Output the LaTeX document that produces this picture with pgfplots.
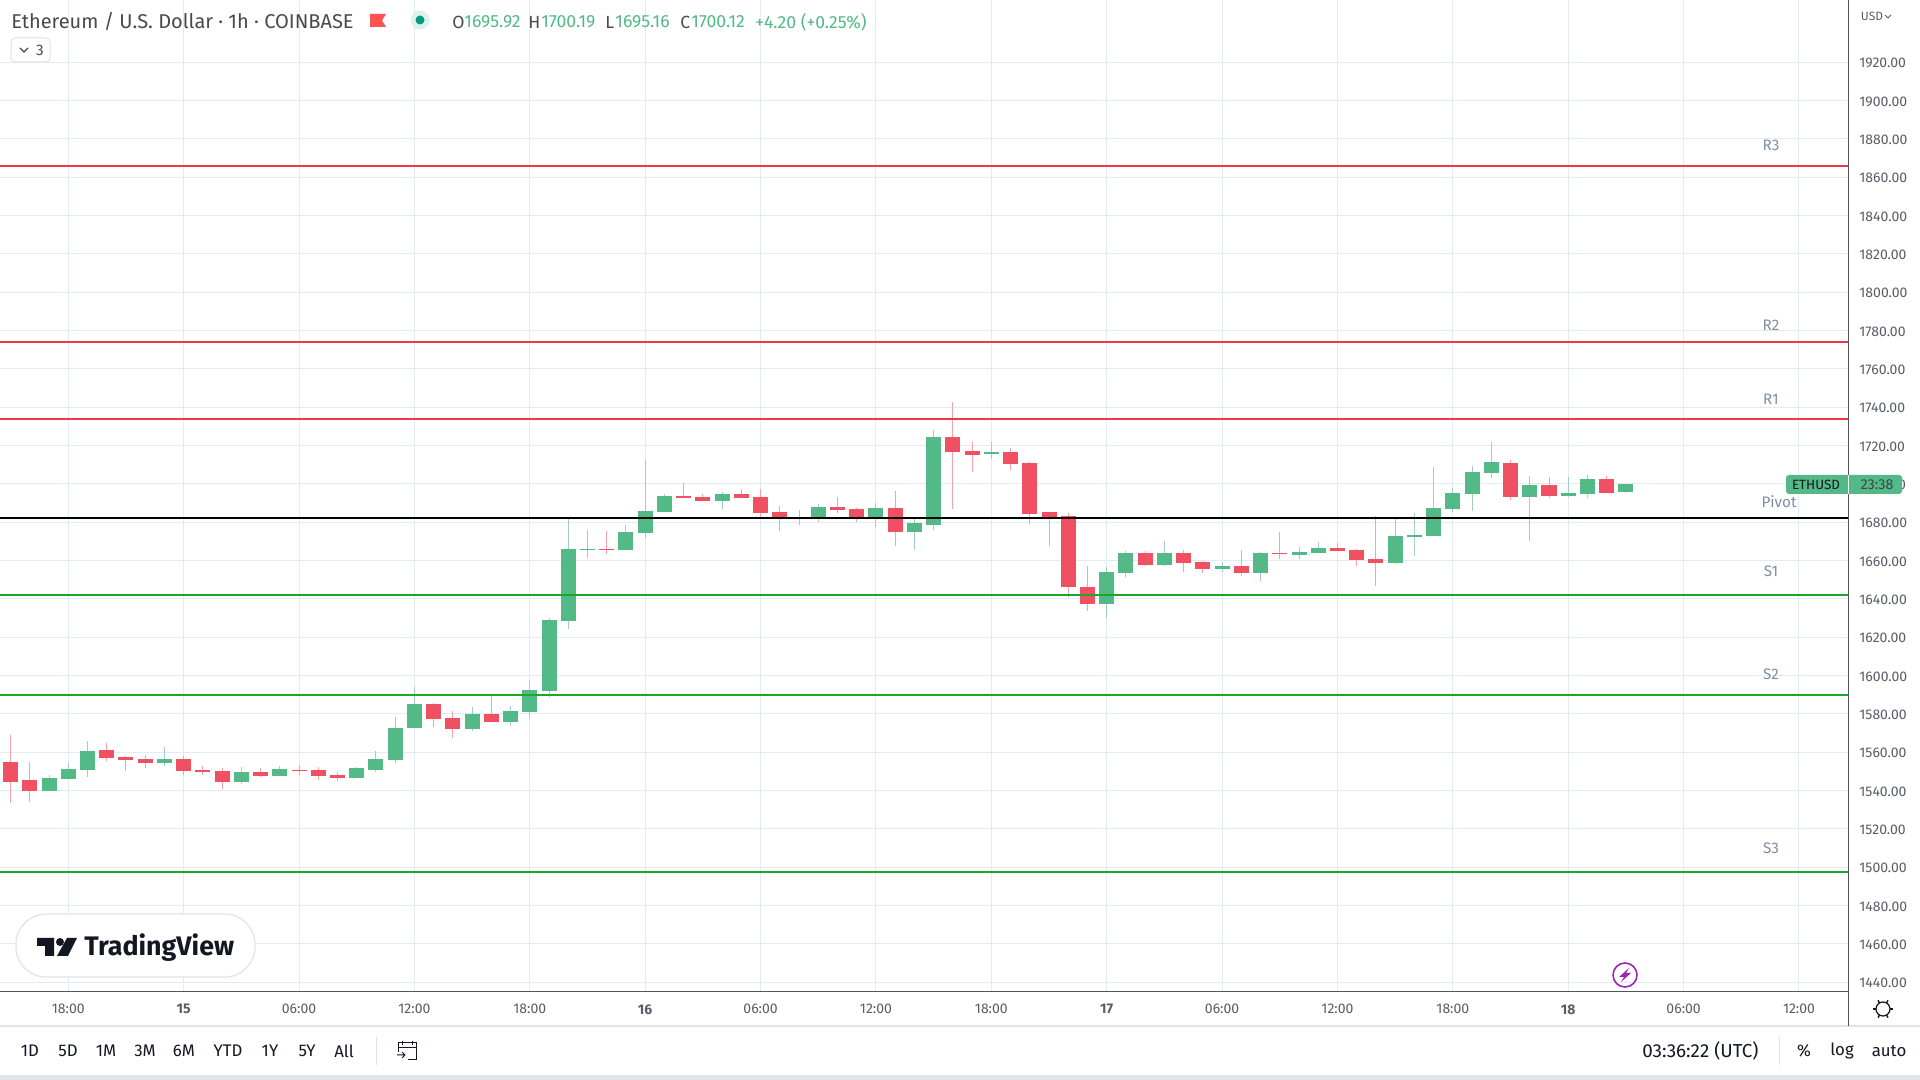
\documentclass[border=0pt]{standalone}
\usepackage{fontspec}
\usepackage{pgfplots}
\usepackage{pgfplotstable}
\pgfplotsset{compat=1.18}
\setmainfont{Fira Sans}
\definecolor{cgreen}{HTML}{53B987}
\definecolor{cred}{HTML}{EF5062}
\definecolor{wgreen}{HTML}{A3CDCB}
\definecolor{wred}{HTML}{F9A0AD}
\definecolor{gridc}{HTML}{E1ECF2}
\definecolor{axisc}{HTML}{50535E}
\definecolor{labc}{HTML}{5A5D68}
\definecolor{lvlred}{HTML}{F23645}
\definecolor{lvlgreen}{HTML}{1AA828}
\definecolor{pivlab}{HTML}{7F8EA3}
\definecolor{sepc}{HTML}{E0E3EB}
\definecolor{txtc}{HTML}{131722}
\definecolor{titlec}{HTML}{4A4A4A}
\definecolor{purp}{HTML}{9C27B0}
\definecolor{dotc}{HTML}{089981}
\definecolor{haloc}{HTML}{DDF2EE}
\definecolor{flagc}{HTML}{FF5252}
\pgfplotstableread{
i top bot hi lo
2 1546.6 1539.9 1548.2 1539.9
3 1551.3 1546.1 1554.5 1546.1
4 1560.7 1550.8 1565.9 1547.2
8 1556.6 1554.5 1562.8 1552.9
12 1549.8 1544.5 1552.4 1543.5
14 1551.3 1547.7 1552.9 1547.7
18 1551.9 1546.6 1552.4 1546.6
19 1556.6 1550.8 1560.7 1549.8
20 1572.7 1556.0 1578.5 1554.5
21 1585.2 1572.7 1594.1 1572.7
24 1580.0 1572.1 1583.6 1571.1
26 1581.5 1575.8 1584.1 1573.7
27 1592.5 1581.0 1597.2 1577.9
28 1629.0 1592.0 1630.0 1588.8
29 1666.0 1628.5 1681.7 1624.3
30 1666.0 1665.5 1675.9 1661.3
32 1674.9 1665.5 1678.6 1665.5
33 1685.9 1674.4 1712.5 1671.8
34 1693.7 1685.3 1694.7 1685.3
37 1694.7 1691.1 1695.8 1686.9
41 1682.7 1681.9 1686.4 1678.6
42 1687.9 1682.7 1689.5 1680.1
45 1687.4 1682.7 1690.0 1677.5
47 1679.6 1674.9 1681.7 1665.5
48 1724.5 1678.6 1728.1 1676.0
51 1716.7 1715.6 1721.9 1713.0
57 1654.0 1637.4 1656.7 1630.0
58 1664.0 1653.5 1665.0 1651.4
60 1664.0 1657.7 1670.2 1657.2
63 1657.2 1655.6 1659.3 1654.0
65 1664.0 1653.5 1664.5 1649.4
67 1664.5 1662.9 1667.1 1660.8
68 1666.6 1664.0 1669.7 1664.0
72 1672.9 1658.8 1681.8 1658.3
73 1673.4 1672.4 1684.9 1662.4
74 1687.5 1672.9 1708.9 1672.9
75 1695.3 1687.0 1697.9 1685.4
76 1706.3 1694.8 1709.4 1685.9
77 1711.5 1705.8 1721.9 1703.1
79 1699.5 1693.2 1704.2 1670.3
81 1695.3 1693.8 1703.7 1693.2
82 1702.6 1694.8 1704.7 1692.7
84 1700.12 1695.92 1700.19 1695.16
}\greencandles
\pgfplotstableread{
i top bot hi lo
0 1555.0 1544.5 1569.1 1533.6
1 1545.6 1539.9 1555.0 1534.1
5 1561.2 1557.1 1564.9 1555.5
6 1557.6 1556.0 1558.1 1550.3
7 1556.6 1554.5 1558.6 1551.9
9 1556.6 1550.3 1558.1 1548.2
10 1550.8 1549.8 1552.9 1548.2
11 1550.3 1544.5 1551.9 1540.9
13 1549.8 1547.7 1551.9 1547.2
15 1550.8 1550.3 1553.4 1548.2
16 1550.8 1547.7 1552.4 1545.6
17 1548.2 1546.6 1549.8 1545.1
22 1585.2 1577.3 1585.7 1573.2
23 1577.9 1572.1 1581.5 1567.4
25 1580.0 1575.8 1589.3 1575.8
31 1666.0 1665.5 1675.4 1663.4
35 1693.7 1692.6 1700.5 1692.6
36 1693.2 1691.1 1694.7 1691.1
38 1694.7 1692.6 1697.3 1692.6
39 1693.2 1684.8 1697.3 1682.7
40 1685.3 1682.2 1688.5 1675.4
43 1687.9 1686.4 1693.2 1684.8
44 1686.9 1682.2 1687.4 1680.1
46 1687.4 1674.9 1696.3 1667.6
49 1724.5 1716.7 1742.7 1686.9
50 1717.2 1715.1 1721.9 1706.2
52 1716.7 1710.4 1718.7 1707.3
53 1710.9 1684.3 1711.4 1679.1
54 1685.3 1682.7 1685.3 1667.6
55 1683.3 1646.2 1684.8 1641.0
56 1646.2 1637.4 1657.2 1633.7
59 1664.0 1657.7 1665.0 1657.2
61 1664.0 1658.7 1665.5 1654.0
62 1659.3 1655.6 1659.8 1653.5
64 1657.2 1653.5 1665.5 1652.0
66 1664.0 1663.4 1674.9 1660.8
69 1666.6 1665.0 1669.2 1665.0
70 1665.6 1660.4 1666.1 1657.2
71 1660.9 1658.8 1683.3 1646.8
78 1711.0 1693.2 1712.5 1691.7
80 1699.5 1693.8 1703.7 1692.7
83 1702.6 1695.3 1704.2 1695.3
}\redcandles
\newcommand{\candles}[3]{%
  \addplot[draw=none,mark=none,forget plot,error bars/.cd,y dir=plus,y explicit,error mark=none,
    error bar style={line width=0.5pt,draw=#2}]
    table[x=i,y=lo,y error plus expr=\thisrow{hi}-\thisrow{lo}] {#1};
  \addplot[draw=none,mark=none,forget plot,error bars/.cd,y dir=plus,y explicit,error mark=none,
    error bar style={line width=7.5pt,draw=#3}]
    table[x=i,y=bot,y error plus expr=\thisrow{top}-\thisrow{bot}] {#1};
}
\newcommand{\level}[2]{\addplot[#1,line width=1pt,forget plot] coordinates {(-0.551,#2) (95.55,#2)};}
\begin{document}
\begin{tikzpicture}
\path[use as bounding box,fill=white] (0pt,0pt) rectangle (960pt,540pt);
\begin{axis}[
  at={(0pt,44pt)},anchor=south west,
  scale only axis,width=924pt,height=496pt,
  xmin=-0.551,xmax=95.55,ymin=1434.9,ymax=1952.5,
  axis x line*=bottom,axis y line*=right,
  axis line style={draw=axisc,line width=0.5pt,-},
  major tick length=0pt,
  grid=major,major grid style={draw=gridc,line width=0.5pt},
  xtick={3,9,15,21,27,33,39,45,51,57,63,69,75,81,87,93},
  xticklabels={18:00,\textbf{15},06:00,12:00,18:00,\textbf{16},06:00,12:00,18:00,\textbf{17},06:00,12:00,18:00,\textbf{18},06:00,12:00},
  ytick={1440,1460,...,1920},
  scaled y ticks=false,
  /pgf/number format/assume math mode=true,
  y tick label style={/pgf/number format/fixed,/pgf/number format/fixed zerofill,/pgf/number format/precision=2,/pgf/number format/1000 sep={},
    font=\fontsize{7}{8}\selectfont,text=labc,inner sep=0pt,xshift=5.5pt,yshift=-0.4pt},
  x tick label style={font=\fontsize{7}{8}\selectfont,text=labc,inner sep=0pt,yshift=-6pt,anchor=north},
  clip=true,
]
\candles{\greencandles}{wgreen}{cgreen}
\candles{\redcandles}{wred}{cred}
\level{lvlred}{1866.1}
\level{lvlred}{1774.3}
\level{lvlred}{1733.9}
\level{black}{1682.2}
\level{lvlgreen}{1642.1}
\level{lvlgreen}{1590.0}
\level{lvlgreen}{1497.7}
\end{axis}
\begin{scope}[shift={(0pt,540pt)},x=0.5pt,y=-0.5pt]
  % separators
  \draw[sepc,line width=0.6pt] (0,1026) -- (1920,1026);
  \draw[axisc,line width=0.5pt] (1848,992) -- (1848,1026);
  \fill[sepc] (0,1075) rectangle (1920,1080);
  \draw[sepc,line width=0.5pt] (376,1037) -- (376,1065);
  \draw[sepc,line width=0.5pt] (1779,1037) -- (1779,1065);
  % level labels
  \begin{scope}[every node/.style={font=\fontsize{7.6}{9}\selectfont,text=pivlab,inner sep=0pt}]
    \node at (1771,145.7) {R3};
    \node at (1771,325) {R2};
    \node at (1771,399) {R1};
    \node at (1779,502) {Pivot};
    \node at (1771,571.5) {S1};
    \node at (1771,674) {S2};
    \node at (1771,848.6) {S3};
  \end{scope}
  % title
  \node[anchor=west,inner sep=0pt,font=\fontsize{10}{12}\selectfont,text=titlec] at (11,21) {Ethereum / U.S. Dollar · 1h · COINBASE};
  \fill[flagc] (370,14) -- (386,14) -- (382,20.5) -- (386,27) -- (370,27) -- cycle;
  \fill[haloc] (420,20) circle (9.5);
  \fill[dotc] (420,20) circle (4.5);
  \begin{scope}[every node/.style={anchor=west,inner sep=0pt,font=\fontsize{8.8}{10}\selectfont}]
    \node[text=titlec] at (452,22) {O};
    \node[text=cgreen] at (464,22) {1695.92};
    \node[text=titlec] at (528,22) {H};
    \node[text=cgreen] at (541,22) {1700.19};
    \node[text=titlec] at (605,22) {L};
    \node[text=cgreen] at (615,22) {1695.16};
    \node[text=titlec] at (680,22) {C};
    \node[text=cgreen] at (691,22) {1700.12};
    \node[text=cgreen] at (755,22) {+4.20 (+0.25\%)};
  \end{scope}
  % collapsed button
  \draw[sepc,line width=0.5pt,rounded corners=2pt] (11,38) rectangle (50,62);
  \draw[titlec,line width=0.6pt] (20,48) -- (24,52) -- (28,48);
  \node[inner sep=0pt,font=\fontsize{7.6}{9}\selectfont,text=titlec] at (40,50) {3};
  % USD
  \node[inner sep=0pt,font=\fontsize{6}{7}\selectfont,text=labc] at (1872,16) {USD};
  \draw[labc,line width=0.4pt] (1885,15) -- (1888,18) -- (1891,15);
  % price tag
  \fill[cgreen,rounded corners=1.5pt] (1786,475) rectangle (1902,494);
  \draw[white,line width=0.5pt] (1848,475) -- (1848,494);
  \node[inner sep=0pt,font=\fontsize{6.7}{8}\selectfont,text=txtc] at (1816,485) {ETHUSD};
  \node[inner sep=0pt,font=\fontsize{7.2}{8}\selectfont,text=txtc!80] at (1877,485) {23:38};
  % logo box
  \draw[sepc,fill=white,line width=0.6pt,rounded corners=15pt] (16,914) rectangle (255,977);
  \fill[txtc] (37,938) -- (54,938) -- (54,956) -- (45,956) -- (45,946) -- (37,946) -- cycle;
  \fill[txtc] (60,942) circle (4);
  \fill[txtc] (67,938) -- (77,938) -- (68,956) -- (57,956) -- cycle;
  \node[anchor=west,inner sep=0pt,font=\fontsize{13.4}{16}\bfseries\selectfont,text=txtc] at (84,948) {TradingView};
  % lightning
  \draw[purp,line width=0.8pt] (1625,975) circle (12);
  \fill[purp] (1629,968) -- (1619,977) -- (1624,977) -- (1621,982) -- (1631,973) -- (1626,973) -- cycle;
  % gear
  \draw[txtc,line width=0.6pt] (1883,1009) circle (7);
  \foreach \a in {0,60,...,300} \draw[txtc,line width=0.7pt] ([shift={(\a:7)}]1883,1009) -- ([shift={(\a:10)}]1883,1009);
  % range buttons
  \begin{scope}[every node/.style={inner sep=0pt,font=\fontsize{8.4}{10}\selectfont,text=txtc}]
    \node at (30,1051) {1D};
    \node at (68,1051) {5D};
    \node at (106,1051) {1M};
    \node at (145,1051) {3M};
    \node at (184,1051) {6M};
    \node at (228,1051) {YTD};
    \node at (270,1051) {1Y};
    \node at (307,1051) {5Y};
    \node at (344,1051) {All};
    \node at (1804,1051) {\%};
    \node at (1842,1051) {log};
    \node at (1889,1051) {auto};
  \end{scope}
  \node[anchor=west,inner sep=0pt,font=\fontsize{9.4}{11}\selectfont,text=txtc] at (1642,1051) {03:36:22 (UTC)};
  % calendar icon
  \draw[txtc,line width=0.5pt] (398,1052) -- (398,1043) -- (416,1043) -- (416,1060) -- (408,1060);
  \draw[txtc,line width=0.5pt] (398,1048) -- (416,1048) (402,1041) -- (402,1045) (412,1041) -- (412,1045);
  \draw[txtc,line width=0.5pt] (397,1055) -- (405,1055) (402,1052) -- (405,1055) -- (402,1058);
\end{scope}
\end{tikzpicture}
\end{document}
